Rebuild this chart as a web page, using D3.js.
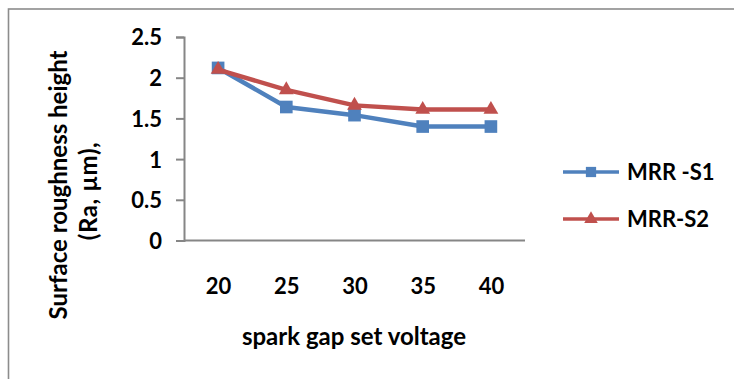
<!DOCTYPE html>
<html>
<head>
<meta charset="utf-8">
<script src="https://cdn.jsdelivr.net/npm/d3@7"></script>
<style>
  html, body { margin: 0; padding: 0; background: #fff; }
  svg { display: block; }
  text { font-family: Lato, "Open Sans", sans-serif; font-weight: bold; fill: #000; }
</style>
</head>
<body>
<svg id="chart" width="734" height="379"></svg>
<script>
// Spark gap set voltage (categories) and surface roughness Ra (µm) per series
const voltages = ["20", "25", "30", "35", "40"];
const seriesS1 = [2.12, 1.64, 1.54, 1.40, 1.40];
const seriesS2 = [2.10, 1.85, 1.66, 1.61, 1.61];
const yTicks = [0, 0.5, 1, 1.5, 2, 2.5];
const seriesNames = ["MRR -S1", "MRR-S2"];

const svg = d3.select("#chart");
const axisColor = "#868686";
const blue = "#4F81BD";
const red = "#C0504D";

// outer chart frame
svg.append("rect")
  .attr("x", 8.5).attr("y", 9)
  .attr("width", 760).attr("height", 400)
  .attr("fill", "none")
  .attr("stroke", "#8c8c8c")
  .attr("stroke-width", 1.6);

const plot = { left: 184, right: 525, top: 37, bottom: 240.5 };

const x = d3.scalePoint()
  .domain(voltages)
  .range([plot.left, plot.right])
  .padding(0.5);

const y = d3.scaleLinear()
  .domain([0, 2.5])
  .range([plot.bottom, plot.top]);

// Y axis
const yAxis = svg.append("g")
  .attr("transform", `translate(${plot.left},0)`)
  .call(d3.axisLeft(y).tickValues(yTicks).tickSize(8).tickPadding(14)
    .tickFormat(d => d3.format("")(d)));
yAxis.select(".domain").attr("stroke", axisColor).attr("stroke-width", 2);
yAxis.selectAll(".tick line").attr("stroke", axisColor).attr("stroke-width", 2);
yAxis.selectAll(".tick text")
  .style("font-size", "22px")
  .attr("dy", "0.36em");

// X axis (line only, labels below)
const xAxis = svg.append("g")
  .attr("transform", `translate(0,${plot.bottom})`)
  .call(d3.axisBottom(x).tickSize(0).tickPadding(38));
xAxis.select(".domain")
  .attr("d", `M${plot.left},0H${plot.right}`)
  .attr("stroke", axisColor).attr("stroke-width", 2);
xAxis.selectAll(".tick text").style("font-size", "22px").attr("dy", "0.71em");

// Axis titles
svg.append("text")
  .attr("x", 354).attr("y", 345)
  .attr("text-anchor", "middle")
  .style("font-size", "24px")
  .text("spark gap set voltage");

const yTitle = svg.append("text")
  .attr("transform", "translate(67,185) rotate(-90)")
  .attr("text-anchor", "middle")
  .style("font-size", "24px");
yTitle.append("tspan").attr("x", 0).attr("y", 0).text("Surface roughness height");
yTitle.append("tspan").attr("x", -6).attr("y", 30)
  .style("letter-spacing", "0.6px").text("(Ra, µm),");

// Series
const line = d3.line()
  .x((d, i) => x(voltages[i]))
  .y(d => y(d));

function drawSeries(values, color, symbolType, size) {
  svg.append("path")
    .datum(values)
    .attr("d", line)
    .attr("fill", "none")
    .attr("stroke", color)
    .attr("stroke-width", 4.5)
    .attr("stroke-linejoin", "round");
  svg.append("g").selectAll("path")
    .data(values)
    .join("path")
    .attr("transform", (d, i) => `translate(${x(voltages[i])},${y(d)})`)
    .attr("d", d3.symbol().type(symbolType).size(size))
    .attr("fill", color);
}
drawSeries(seriesS1, blue, d3.symbolSquare, 160);
drawSeries(seriesS2, red, d3.symbolTriangle, 95);

// Legend
const legendItems = [
  { name: seriesNames[0], color: blue, symbol: d3.symbolSquare, size: 105, y: 172 },
  { name: seriesNames[1], color: red, symbol: d3.symbolTriangle, size: 80, y: 219 }
];
const legend = svg.append("g");
legendItems.forEach(item => {
  legend.append("line")
    .attr("x1", 563).attr("x2", 619)
    .attr("y1", item.y).attr("y2", item.y)
    .attr("stroke", item.color).attr("stroke-width", 3.5);
  legend.append("path")
    .attr("transform", `translate(591,${item.y})`)
    .attr("d", d3.symbol().type(item.symbol).size(item.size))
    .attr("fill", item.color);
  legend.append("text")
    .attr("x", 627).attr("y", item.y)
    .attr("dy", "0.36em")
    .style("font-size", "22px")
    .text(item.name);
});
</script>
</body>
</html>
